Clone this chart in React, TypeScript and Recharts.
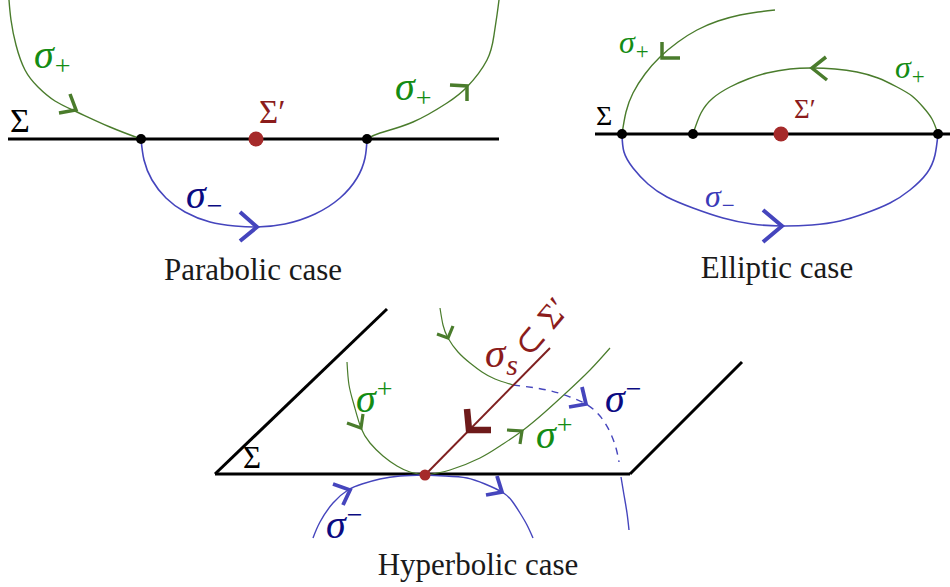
import React from "react";
import { ComposedChart, Line, Scatter, XAxis, YAxis } from "recharts";

// diagram coordinates (x right, y down)
type P = [number, number];

// ---- parabolic case
const parSigmaLine: P[] = [[8, 139], [499, 139]];
const parGreenLeft: P[] = [[9, 0], [11, 20], [16, 45], [25, 70], [38, 87], [55, 101], [77, 112], [110, 127], [141, 139]];
const parGreenRight: P[] = [[367, 139], [380, 133], [413, 122], [447, 103], [467, 87], [487, 60], [494, 35], [497, 15], [499, 0]];
const parBlue: P[] = [[141, 139], [144, 160], [152, 180], [166, 198], [185, 212], [210, 222], [235, 226], [257, 227], [285, 224], [315, 214], [340, 198], [357, 178], [365, 158], [367, 139]];
const parArrowsGreen: P[][] = [
  [[70, 94], [76, 110], [59, 113]],
  [[450, 85], [467, 86], [467, 101]],
];
const parArrowsBlue: P[][] = [[[240, 212], [257, 227], [240, 241]]];

// ---- elliptic case
const ellSigmaLine: P[] = [[595, 134], [950, 134]];
const ellBlue: P[] = [[622, 134], [624, 152], [633, 168], [648, 184], [667, 197], [693, 208], [723, 218], [752, 224], [781, 226], [812, 225], [840, 221], [866, 213], [890, 203], [910, 190], [927, 173], [935, 155], [938, 134]];
const ellGreenInner: P[] = [[693, 134], [701, 113], [713, 98], [730, 87], [748, 79], [767, 73], [790, 69], [812, 68], [835, 69], [857, 72], [878, 78], [897, 87], [912, 96], [923, 107], [932, 119], [938, 134]];
const ellGreenOuter: P[] = [[622, 134], [626, 112], [633, 93], [645, 74], [660, 57], [678, 42], [697, 30], [718, 21], [740, 15], [758, 12], [775, 10]];
const ellArrowsGreen: P[][] = [
  [[826, 57], [812, 68], [827, 80]],
  [[662, 42], [662, 58], [680, 58]],
];
const ellArrowsBlue: P[][] = [[[763, 210], [782, 226], [763, 242]]];

// ---- hyperbolic case
const hypPlane: P[][] = [
  [[215, 474], [387, 309]],
  [[215, 474], [630, 474]],
  [[630, 474], [742, 362]],
];
const hypSigmaS: P[] = [[425, 475], [550, 348]];
const hypSigmaSArrow: P[] = [[467, 409], [469, 430], [491, 430]];
const hypGreenLeft: P[] = [[347, 362], [349, 385], [354, 405], [361, 428], [370, 443], [383, 456], [397, 466], [410, 472], [425, 475]];
const hypGreenTop: P[] = [[440, 308], [443, 325], [448, 338], [458, 352], [470, 363], [482, 372], [495, 379], [513, 385]];
const hypGreenRight: P[] = [[425, 475], [450, 470], [480, 458], [500, 446], [522, 431], [545, 412], [567, 392], [590, 370], [610, 348]];
const hypBlueDashed: P[] = [[513, 385], [547, 390], [570, 397], [586, 404], [600, 416], [610, 432], [616, 448], [619, 462]];
const hypBlueBelow: P[] = [[621, 477], [624, 495], [627, 513], [629, 530]];
const hypBlueLeft: P[] = [[313, 538], [320, 522], [333, 503], [348, 490], [362, 484], [380, 479], [400, 476], [425, 475]];
const hypBlueRight: P[] = [[425, 475], [445, 476], [467, 478], [485, 484], [502, 492], [512, 501], [520, 513], [527, 525], [533, 538]];
const hypArrowsGreen: P[][] = [
  [[347, 423], [361, 428], [363, 414]],
  [[437, 334], [448, 338], [453, 326]],
  [[507, 430], [522, 431], [520, 444]],
];
const hypArrowsBlue: P[][] = [
  [[333, 484], [350, 490], [343, 505]],
  [[486, 495], [502, 492], [497, 476]],
  [[569, 407], [586, 404], [582, 387]],
];

// ---- points
const blackDots = [{ x: 141, y: 139 }, { x: 367, y: 139 }, { x: 622, y: 134 }, { x: 693, y: 134 }, { x: 938, y: 134 }];
const redDotsBig = [{ x: 256, y: 139 }, { x: 781, y: 134 }];
const redDotsSmall = [{ x: 425, y: 475 }];

// ---- labels (x = left edge, y = baseline)
interface Lbl { x: number; y: number; main: string; sub?: string; sup?: string }
const greenLabels: Lbl[] = [
  { x: 34, y: 68, main: "σ", sub: "+" },
  { x: 395, y: 100, main: "σ", sub: "+" },
  { x: 536, y: 448, main: "σ", sup: "+" },
  { x: 356, y: 412, main: "σ", sup: "+" },
];
const greenSmallLabels: Lbl[] = [
  { x: 619, y: 53, main: "σ", sub: "+" },
  { x: 895, y: 78, main: "σ", sub: "+" },
];
const navyLabels: Lbl[] = [
  { x: 186, y: 208, main: "σ", sub: "−" },
  { x: 605, y: 412, main: "σ", sup: "−" },
  { x: 326, y: 538, main: "σ", sup: "−" },
];
const blueSmallLabels: Lbl[] = [{ x: 705, y: 207, main: "σ", sub: "−" }];
const sigmaPrimeLabels: Lbl[] = [{ x: 259, y: 123, main: "Σ′" }];
const sigmaPrimeSmallLabels: Lbl[] = [{ x: 794, y: 118, main: "Σ′" }];
const sigmaSLabels: Lbl[] = [{ x: 485, y: 367, main: "σ", sub: "s" }];
const bigSigmaParabolic: Lbl[] = [{ x: 10, y: 132, main: "Σ" }];
const bigSigmaElliptic: Lbl[] = [{ x: 596, y: 125, main: "Σ" }];
const bigSigmaHyperbolic: Lbl[] = [{ x: 243, y: 468, main: "Σ" }];
const captions = [
  { x: 253, y: 280, text: "Parabolic case" },
  { x: 777, y: 278, text: "Elliptic case" },
  { x: 478, y: 575, text: "Hyperbolic case" },
];
const rotatedLabels = [{ x: 541, y: 327, text: "⊂ Σ′" }];

const GREEN = "#4a7c2c";
const BLUE = "#4545bd";
const MAROON = "#8b1c1c";
const SERIF = "'Liberation Serif', 'DejaVu Serif', serif";

const pts = (a: P[]) => a.map(([x, y]) => ({ x, y }));

const makeLabel = (color: string, size: number, small: number) => (props: any) => {
  const { cx, cy, payload } = props;
  return (
    <text x={cx} y={cy} fill={color} fontFamily={SERIF} fontSize={size}>
      <tspan fontStyle={payload.main === "σ" ? "italic" : "normal"}>{payload.main}</tspan>
      {payload.sub && (
        <tspan dx={1} dy={small * 0.25} fontSize={small} fontStyle={payload.sub === "s" ? "italic" : "normal"}>
          {payload.sub}
        </tspan>
      )}
      {payload.sup && (
        <tspan dx={1} dy={-small * 0.5} fontSize={small}>
          {payload.sup}
        </tspan>
      )}
    </text>
  );
};

const captionShape = (props: any) => (
  <text x={props.cx} y={props.cy} textAnchor="middle" fill="#1a1a1a" fontFamily={SERIF} fontSize={31}>
    {props.payload.text}
  </text>
);

const rotatedShape = (props: any) => (
  <text
    x={props.cx}
    y={props.cy}
    textAnchor="middle"
    dominantBaseline="central"
    fill={MAROON}
    fontFamily={SERIF}
    fontSize={34}
    transform={`rotate(-50 ${props.cx} ${props.cy})`}
  >
    {props.payload.text}
  </text>
);

const dot = (r: number, fill: string) => (props: any) => <circle cx={props.cx} cy={props.cy} r={r} fill={fill} />;

const curve = (key: string, a: P[], stroke: string, width: number, type: any = "natural", dash?: string) => (
  <Line
    key={key}
    name={key}
    data={pts(a)}
    dataKey="y"
    type={type}
    stroke={stroke}
    strokeWidth={width}
    strokeDasharray={dash}
    strokeLinejoin="miter"
    dot={false}
    activeDot={false}
    isAnimationActive={false}
  />
);

export default function App() {
  return (
    <div style={{ position: "absolute", left: 0, top: 0, background: "#fff" }}>
      <ComposedChart width={950} height={587} margin={{ top: 0, right: 0, bottom: 0, left: 0 }}>
        <XAxis type="number" dataKey="x" domain={[0, 950]} hide allowDataOverflow />
        <YAxis type="number" dataKey="y" domain={[0, 587]} reversed hide allowDataOverflow />

        {curve("parSigma", parSigmaLine, "#000", 3, "linear")}
        {curve("parGreenLeft", parGreenLeft, GREEN, 1.4)}
        {curve("parGreenRight", parGreenRight, GREEN, 1.4)}
        {curve("parBlue", parBlue, BLUE, 1.6)}
        {parArrowsGreen.map((a, i) => curve("parAG" + i, a, GREEN, 3.5, "linear"))}
        {parArrowsBlue.map((a, i) => curve("parAB" + i, a, BLUE, 4, "linear"))}

        {curve("ellSigma", ellSigmaLine, "#000", 3, "linear")}
        {curve("ellBlue", ellBlue, BLUE, 1.6)}
        {curve("ellGreenInner", ellGreenInner, GREEN, 1.4)}
        {curve("ellGreenOuter", ellGreenOuter, GREEN, 1.4)}
        {ellArrowsGreen.map((a, i) => curve("ellAG" + i, a, GREEN, 3.5, "linear"))}
        {ellArrowsBlue.map((a, i) => curve("ellAB" + i, a, BLUE, 4, "linear"))}

        {hypPlane.map((a, i) => curve("plane" + i, a, "#000", 3, "linear"))}
        {curve("hypGreenLeft", hypGreenLeft, GREEN, 1.2)}
        {curve("hypGreenTop", hypGreenTop, GREEN, 1.2)}
        {curve("hypGreenRight", hypGreenRight, GREEN, 1.2)}
        {curve("hypBlueDashed", hypBlueDashed, BLUE, 1.4, "natural", "7 6")}
        {curve("hypBlueBelow", hypBlueBelow, BLUE, 1.4)}
        {curve("hypBlueLeft", hypBlueLeft, BLUE, 1.4)}
        {curve("hypBlueRight", hypBlueRight, BLUE, 1.4)}
        {curve("hypSigmaS", hypSigmaS, "#7f2020", 2, "linear")}
        {curve("hypSigmaSArrow", hypSigmaSArrow, "#6e1a1a", 6.5, "linear")}
        {hypArrowsGreen.map((a, i) => curve("hypAG" + i, a, GREEN, 3.2, "linear"))}
        {hypArrowsBlue.map((a, i) => curve("hypAB" + i, a, BLUE, 3.8, "linear"))}

        <Scatter data={blackDots} dataKey="y" shape={dot(5, "#000")} isAnimationActive={false} />
        <Scatter data={redDotsBig} dataKey="y" shape={dot(7.5, "#a52a2a")} isAnimationActive={false} />
        <Scatter data={redDotsSmall} dataKey="y" shape={dot(5.5, "#a52a2a")} isAnimationActive={false} />

        <Scatter data={greenLabels} dataKey="y" shape={makeLabel("#148c14", 40, 28)} isAnimationActive={false} />
        <Scatter data={greenSmallLabels} dataKey="y" shape={makeLabel("#148c14", 32, 23)} isAnimationActive={false} />
        <Scatter data={navyLabels} dataKey="y" shape={makeLabel("#0b0b82", 40, 28)} isAnimationActive={false} />
        <Scatter data={blueSmallLabels} dataKey="y" shape={makeLabel("#3a3ab8", 32, 23)} isAnimationActive={false} />
        <Scatter data={sigmaPrimeLabels} dataKey="y" shape={makeLabel(MAROON, 33, 28)} isAnimationActive={false} />
        <Scatter data={sigmaPrimeSmallLabels} dataKey="y" shape={makeLabel(MAROON, 27, 22)} isAnimationActive={false} />
        <Scatter data={sigmaSLabels} dataKey="y" shape={makeLabel(MAROON, 41, 30)} isAnimationActive={false} />
        <Scatter data={bigSigmaParabolic} dataKey="y" shape={makeLabel("#000", 34, 24)} isAnimationActive={false} />
        <Scatter data={bigSigmaElliptic} dataKey="y" shape={makeLabel("#000", 28, 20)} isAnimationActive={false} />
        <Scatter data={bigSigmaHyperbolic} dataKey="y" shape={makeLabel("#000", 31, 20)} isAnimationActive={false} />
        <Scatter data={captions} dataKey="y" shape={captionShape} isAnimationActive={false} />
        <Scatter data={rotatedLabels} dataKey="y" shape={rotatedShape} isAnimationActive={false} />
      </ComposedChart>
    </div>
  );
}
